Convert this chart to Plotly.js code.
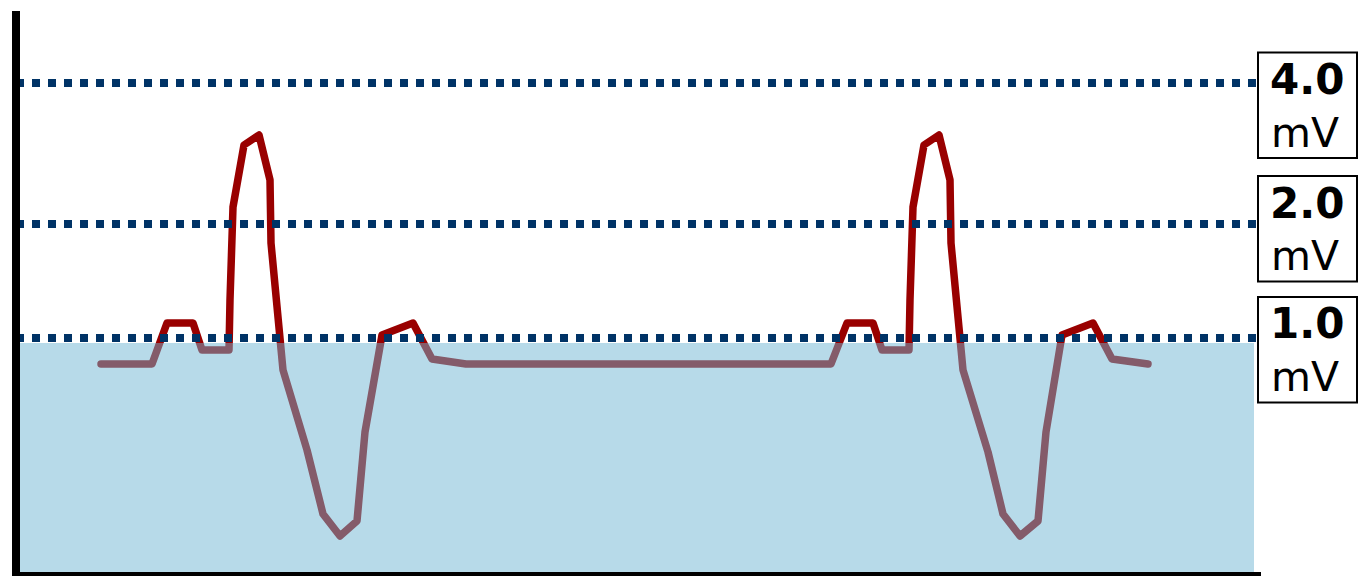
<!DOCTYPE html>
<html>
<head>
<meta charset="utf-8">
<script src="https://cdn.plot.ly/plotly-3.0.1.min.js"></script>
<style>
  html, body { margin: 0; padding: 0; background: #fff; }
  #chart { width: 1359px; height: 576px; }
  .js-plotly-plot .scatterlayer .js-line { stroke-linejoin: round; stroke-linecap: round; }
</style>
</head>
<body>
<div id="chart"></div>
<script>
// ---- data (time in s, amplitude in arbitrary units) ----
const timeS = [
  0.081, 0.132, 0.147, 0.173, 0.182, 0.209, 0.210, 0.213, 0.224, 0.239,
  0.250, 0.251, 0.263, 0.287, 0.303, 0.320, 0.337, 0.345, 0.362, 0.393,
  0.412, 0.446, 0.761,
  0.811, 0.827, 0.853, 0.862, 0.889, 0.890, 0.893, 0.904, 0.919,
  0.930, 0.931, 0.943, 0.968, 0.983, 1.000, 1.018, 1.026, 1.042, 1.073,
  1.092, 1.128
];
const amplitude = [
  2.08, 2.08, 2.49, 2.49, 2.22, 2.22, 2.72, 3.65, 4.27, 4.37,
  3.92, 3.29, 2.02, 1.22, 0.58, 0.36, 0.51, 1.40, 2.37, 2.49,
  2.13, 2.08, 2.08,
  2.08, 2.49, 2.49, 2.22, 2.22, 2.72, 3.65, 4.27, 4.37,
  3.92, 3.29, 2.02, 1.20, 0.58, 0.36, 0.51, 1.40, 2.37, 2.49,
  2.13, 2.08
];
const thresholdLevels = [4.89, 3.48, 2.34];
const thresholdLabels = ['4.0', '2.0', '1.0'];
const thresholdUnit = 'mV';
const shadedLevel = 2.29;
const xStart = -0.004, xEnd = 1.236, shadeEnd = 1.234;
const xRange = [0, 1.241];
const yRange = [0, 5.61];

// ---- layout helpers (pixel geometry of the label boxes) ----
const PL = 20, PR = 1261, PT = 11, PB = 572;
const px2paperX = p => (p - PL) / (PR - PL);
const px2paperY = p => (PB - p) / (PB - PT);
const boxTops = [52.5, 176, 297];
const boxH = 105.5, boxL = 1258, boxR = 1357;

const shapes = [];
shapes.push({
  type: 'rect', xref: 'x', yref: 'y', layer: 'above',
  x0: -0.01, x1: shadeEnd, y0: -0.2, y1: shadedLevel,
  fillcolor: 'rgba(111,181,211,0.5)', line: { width: 0 }
});
thresholdLevels.forEach(v => {
  shapes.push({
    type: 'line', xref: 'x', yref: 'y', layer: 'above',
    x0: xStart, x1: xEnd, y0: v, y1: v,
    line: { color: '#003366', width: 8, dash: '8px,8px' }
  });
});
const annotations = [];
thresholdLabels.forEach((lab, i) => {
  const top = boxTops[i];
  shapes.push({
    type: 'rect', xref: 'paper', yref: 'paper', layer: 'above',
    x0: px2paperX(boxL), x1: px2paperX(boxR),
    y0: px2paperY(top + boxH), y1: px2paperY(top),
    fillcolor: '#ffffff', line: { color: '#000000', width: 2 }
  });
  annotations.push({
    xref: 'paper', yref: 'paper', x: px2paperX(1307), y: px2paperY(top + 27),
    xanchor: 'center', yanchor: 'middle', showarrow: false,
    text: '<b>' + lab + '</b>',
    font: { family: 'DejaVu Sans', size: 42, color: '#000000' }
  });
  annotations.push({
    xref: 'paper', yref: 'paper', x: px2paperX(1305), y: px2paperY(top + 80),
    xanchor: 'center', yanchor: 'middle', showarrow: false,
    text: thresholdUnit,
    font: { family: 'DejaVu Sans', size: 41, color: '#000000' }
  });
});

const trace = {
  x: timeS, y: amplitude, type: 'scatter', mode: 'lines',
  line: { color: '#990000', width: 7.5 },
  hoverinfo: 'skip', showlegend: false
};

const layout = {
  width: 1359, height: 576,
  margin: { l: PL, r: 1359 - PR, t: PT, b: 576 - PB, pad: 0 },
  paper_bgcolor: '#ffffff', plot_bgcolor: '#ffffff',
  showlegend: false,
  xaxis: {
    range: xRange, showgrid: false, zeroline: false, showticklabels: false,
    ticks: '', showline: true, linecolor: '#000000', linewidth: 8, fixedrange: true
  },
  yaxis: {
    range: yRange, showgrid: false, zeroline: false, showticklabels: false,
    ticks: '', showline: true, linecolor: '#000000', linewidth: 8, fixedrange: true
  },
  shapes: shapes,
  annotations: annotations
};

Plotly.newPlot('chart', [trace], layout, { staticPlot: true, displayModeBar: false });
</script>
</body>
</html>
